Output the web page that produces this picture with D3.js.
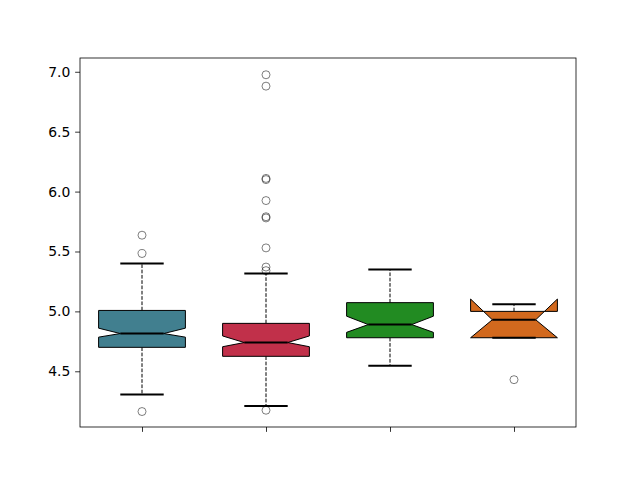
<!DOCTYPE html>
<html><head><meta charset="utf-8">
<script src="https://cdn.jsdelivr.net/npm/d3@7"></script>
<style>body{margin:0;background:#fff}svg{font-family:"DejaVu Sans",sans-serif}</style>
</head><body>
<svg id="c" width="640" height="480"></svg>
<script>
const positions = [1, 2, 3, 4];
const colors = ["#417f8f", "#c1304a", "#228b22", "#d2691e"];
const q1 = [4.70, 4.625, 4.78, 4.78];
const med = [4.815, 4.74, 4.89, 4.93];
const q3 = [5.008, 4.90, 5.073, 5.00];
const cilo = [4.785, 4.705, 4.825, 4.78];
const cihi = [4.86, 4.795, 4.96, 5.103];
const whislo = [4.306, 4.21, 4.547, 4.78];
const whishi = [5.40, 5.317, 5.35, 5.06];
const fliers = [
  [5.636, 5.483, 4.164],
  [6.975, 6.88, 6.11, 6.10, 5.925, 5.79, 5.78, 5.53, 5.37, 5.34, 4.175],
  [],
  [4.43]
];
const yTicks = [4.5, 5.0, 5.5, 6.0, 6.5, 7.0];

const svg = d3.select("#c");
const L = 80, R = 576, T = 58, B = 427;
const x = d3.scaleLinear().domain([0.5, 4.5]).range([L, R]);
const y = d3.scaleLinear().domain([4.035, 7.115]).range([B, T]);
const width = 0.7;

const yAxis = d3.axisLeft(y).tickValues(yTicks).tickFormat(d3.format(".1f")).tickSize(4.86).tickPadding(4.86);
const gy = svg.append("g").attr("transform", `translate(${L},0)`).call(yAxis)
  .attr("font-family", "'DejaVu Sans', sans-serif").attr("font-size", 13.9);
gy.select(".domain").remove();
gy.selectAll("text").attr("fill", "#000");
gy.selectAll("line").attr("stroke", "#000").attr("stroke-width", 0.8);

const xAxis = d3.axisBottom(x).tickValues(positions).tickFormat("").tickSize(4.86);
const gx = svg.append("g").attr("transform", `translate(0,${B})`).call(xAxis);
gx.select(".domain").remove();
gx.selectAll("line").attr("stroke", "#000").attr("stroke-width", 0.8);

const g = svg.append("g");
positions.forEach((p, i) => {
  const bl = x(p - width / 2), br = x(p + width / 2);
  const nl = x(p - width * 0.25), nr = x(p + width * 0.25);
  const cl = x(p - width * 0.25), cr = x(p + width * 0.25);
  const cx = x(p);
  g.append("line").attr("x1", cx).attr("x2", cx).attr("y1", y(q1[i])).attr("y2", y(whislo[i]))
    .attr("stroke", "#000").attr("stroke-width", 1).attr("stroke-dasharray", "3.7,1.6");
  g.append("line").attr("x1", cx).attr("x2", cx).attr("y1", y(q3[i])).attr("y2", y(whishi[i]))
    .attr("stroke", "#000").attr("stroke-width", 1).attr("stroke-dasharray", "3.7,1.6");
  const pts = [
    [bl, q1[i]], [br, q1[i]], [br, cilo[i]], [nr, med[i]], [br, cihi[i]], [br, q3[i]],
    [bl, q3[i]], [bl, cihi[i]], [nl, med[i]], [bl, cilo[i]], [bl, q1[i]]
  ].map(d => [d[0], y(d[1])]);
  g.append("path").attr("d", d3.line()(pts) + "Z").attr("fill", colors[i])
    .attr("stroke", "#000").attr("stroke-width", 1).attr("stroke-linejoin", "miter");
  [whislo[i], whishi[i]].forEach(v => {
    g.append("line").attr("x1", cl).attr("x2", cr).attr("y1", y(v)).attr("y2", y(v))
      .attr("stroke", "#000").attr("stroke-width", 2);
  });
  g.append("line").attr("x1", nl).attr("x2", nr).attr("y1", y(med[i])).attr("y2", y(med[i]))
    .attr("stroke", "#000").attr("stroke-width", 2);
  fliers[i].forEach(v => {
    g.append("circle").attr("cx", cx).attr("cy", y(v)).attr("r", 4)
      .attr("fill", "none").attr("stroke", "#000").attr("stroke-opacity", 0.5).attr("stroke-width", 1);
  });
});

svg.append("rect").attr("x", L).attr("y", T).attr("width", R - L).attr("height", B - T)
  .attr("fill", "none").attr("stroke", "#000").attr("stroke-width", 0.8);
</script>
</body></html>
